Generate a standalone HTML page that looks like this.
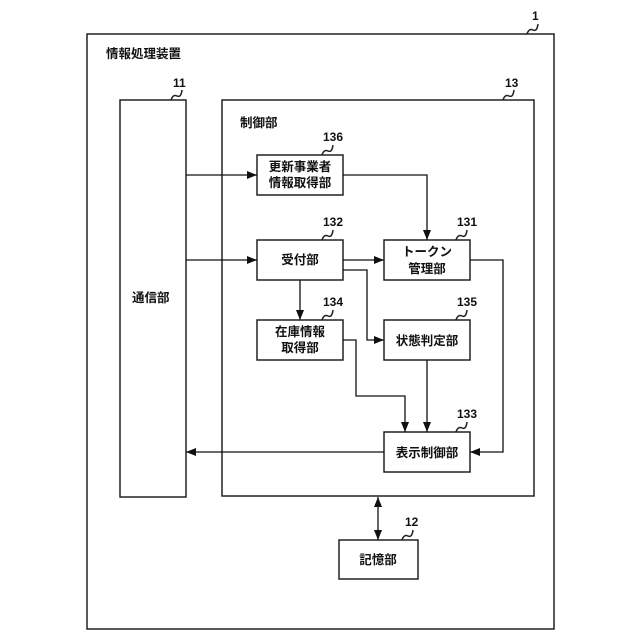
<!DOCTYPE html>
<html><head><meta charset="utf-8"><style>
html,body{margin:0;padding:0;background:#fff;}
svg{display:block;}
text{font-family:"Liberation Sans","Noto Sans CJK JP",sans-serif;font-weight:bold;fill:#111;}
</style></head><body>
<svg width="640" height="640" viewBox="0 0 640 640" xmlns="http://www.w3.org/2000/svg">
<defs>
<marker id="a" markerWidth="10" markerHeight="8" refX="10" refY="4" orient="auto" markerUnits="userSpaceOnUse">
<path d="M0,0 L10,4 L0,8 Z" fill="#111"/></marker>
<marker id="b" markerWidth="10" markerHeight="8" refX="0" refY="4" orient="auto" markerUnits="userSpaceOnUse">
<path d="M10,0 L0,4 L10,8 Z" fill="#111"/></marker>
</defs>
<g fill="none" stroke="#222" stroke-width="1.5">
<rect x="87" y="34" width="467" height="595"/>
<rect x="120" y="100" width="66" height="397"/>
<rect x="222" y="100" width="312" height="396"/>
<rect x="257" y="155" width="86" height="40"/>
<rect x="257" y="240" width="86" height="40"/>
<rect x="384" y="240" width="86" height="40"/>
<rect x="257" y="320" width="86" height="40"/>
<rect x="384" y="320" width="86" height="40"/>
<rect x="384" y="432" width="86" height="40"/>
<rect x="339" y="540" width="79" height="39"/>
<!-- squiggles -->
<path d="M527,34 q2,-6 6,-4 q4,2 5,-6"/>
<path d="M171,100 q2,-6 6,-4 q4,2 5,-6"/>
<path d="M503,100 q2,-6 6,-4 q4,2 5,-6"/>
<path d="M322,155 q2,-6 6,-4 q4,2 5,-6"/>
<path d="M322,240 q2,-6 6,-4 q4,2 5,-6"/>
<path d="M456,240 q2,-6 6,-4 q4,2 5,-6"/>
<path d="M322,320 q2,-6 6,-4 q4,2 5,-6"/>
<path d="M456,320 q2,-6 6,-4 q4,2 5,-6"/>
<path d="M456,432 q2,-6 6,-4 q4,2 5,-6"/>
<path d="M402,540 q2,-6 6,-4 q4,2 5,-6"/>
</g>
<g fill="none" stroke="#111" stroke-width="1.3">
<path d="M186,175 H257" marker-end="url(#a)"/>
<path d="M186,260 H257" marker-end="url(#a)"/>
<path d="M343,175 H427 V240" marker-end="url(#a)"/>
<path d="M343,260 H384" marker-end="url(#a)"/>
<path d="M343,270 H367 V340 H384" marker-end="url(#a)"/>
<path d="M300,280 V320" marker-end="url(#a)"/>
<path d="M343,340 H356 V396 H405 V432" marker-end="url(#a)"/>
<path d="M427,360 V432" marker-end="url(#a)"/>
<path d="M470,260 H503 V452 H470" marker-end="url(#a)"/>
<path d="M384,452 H186" marker-end="url(#a)"/>
<path d="M378,497 V540" marker-start="url(#b)" marker-end="url(#a)"/>
</g>
<g font-size="12.5">
<text x="106" y="58">情報処理装置</text>
<text x="240" y="127">制御部</text>
<text x="132" y="302">通信部</text>
<text x="300" y="171" text-anchor="middle">更新事業者</text>
<text x="300" y="187" text-anchor="middle">情報取得部</text>
<text x="300" y="264" text-anchor="middle">受付部</text>
<text x="427" y="256" text-anchor="middle">トークン</text>
<text x="427" y="273" text-anchor="middle">管理部</text>
<text x="300" y="336" text-anchor="middle">在庫情報</text>
<text x="300" y="352" text-anchor="middle">取得部</text>
<text x="427" y="345" text-anchor="middle">状態判定部</text>
<text x="427" y="457" text-anchor="middle">表示制御部</text>
<text x="378" y="564" text-anchor="middle">記憶部</text>
</g>
<g font-size="12">
<text x="532" y="20">1</text>
<text x="173" y="87">11</text>
<text x="505" y="87">13</text>
<text x="323" y="141">136</text>
<text x="323" y="226">132</text>
<text x="457" y="226">131</text>
<text x="323" y="306">134</text>
<text x="457" y="306">135</text>
<text x="457" y="418">133</text>
<text x="405" y="526">12</text>
</g>
</svg>
</body></html>
